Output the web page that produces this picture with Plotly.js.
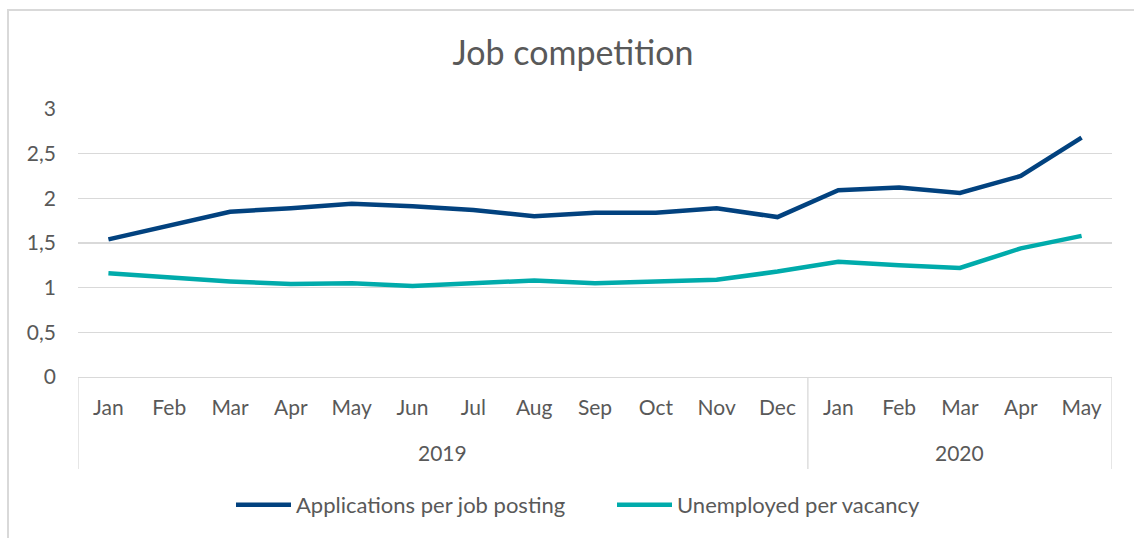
<!DOCTYPE html>
<html>
<head>
<meta charset="utf-8">
<script src="https://cdn.plot.ly/plotly-3.0.1.min.js"></script>
<style>
html,body{margin:0;padding:0;background:#fff;}
#wrap{position:relative;width:1134px;height:538px;overflow:hidden;}
#chart{width:1134px;height:538px;}
#frame{position:absolute;left:7px;top:9px;right:0;bottom:0;border-left:2px solid #d9d9d9;border-top:2px solid #d9d9d9;pointer-events:none;}
</style>
</head>
<body>
<div id="wrap"><div id="chart"></div><div id="frame"></div></div>
<script>
const years = ["2019","2019","2019","2019","2019","2019","2019","2019","2019","2019","2019","2019","2020","2020","2020","2020","2020"];
const months = ["Jan","Feb","Mar","Apr","May","Jun","Jul","Aug","Sep","Oct","Nov","Dec","Jan","Feb","Mar","Apr","May"];
const applicationsPerPosting = [1.54,1.69,1.85,1.89,1.94,1.91,1.87,1.80,1.84,1.84,1.89,1.79,2.09,2.12,2.06,2.25,2.68];
const unemployedPerVacancy = [1.16,1.11,1.07,1.04,1.05,1.02,1.05,1.08,1.05,1.07,1.09,1.18,1.29,1.25,1.22,1.44,1.58];
const yTicks = [0,0.5,1,1.5,2,2.5,3];

const FONT = "Lato, Open Sans, sans-serif";
const GRAY = "#595959";
const LINE = "#d9d9d9";

const idx = months.map((m,i)=>i);

// group years -> centre index and boundaries
const groups = [];
years.forEach((y,i)=>{
  const g = groups[groups.length-1];
  if (g && g.year===y) g.end=i; else groups.push({year:y,start:i,end:i});
});

const yearLabelY = -0.282, dividerBottom = -0.343;
const annotations = groups.map(g=>({
  x:(g.start+g.end)/2, xref:"x", y:yearLabelY, yref:"paper",
  text:g.year, showarrow:false, xanchor:"center", yanchor:"middle",
  font:{family:FONT, size:21, color:GRAY}
}));
const bounds = [groups[0].start-0.5].concat(groups.map(g=>g.end+0.5));
const shapes = bounds.map(b=>({
  type:"line", xref:"x", yref:"paper", x0:b, x1:b, y0:0, y1:dividerBottom,
  line:{color:LINE, width:1.3}
}));

const traces = [
  {x:idx, y:applicationsPerPosting, type:"scatter", mode:"lines",
   name:"Applications per job posting", line:{color:"#02427f", width:4.5}},
  {x:idx, y:unemployedPerVacancy, type:"scatter", mode:"lines",
   name:"Unemployed per vacancy", line:{color:"#00abab", width:4.5}}
];

const layout = {
  width:1134, height:538,
  margin:{l:78, r:22, t:109, b:161},
  separators:",.",
  paper_bgcolor:"#fff", plot_bgcolor:"#fff",
  font:{family:FONT, color:GRAY, size:21},
  title:{text:"Job competition", xref:"container", x:573/1134, xanchor:"center",
         yref:"container", y:1-53/538, yanchor:"middle",
         font:{family:FONT, size:34, color:GRAY}},
  showlegend:true,
  legend:{orientation:"h", xref:"container", x:231/1134, xanchor:"left",
          yref:"container", y:1-505/538, yanchor:"middle",
          font:{family:FONT, size:22, color:GRAY}, itemwidth:55,
          entrywidth:311, entrywidthmode:"pixels"},
  annotations:annotations,
  shapes:shapes,
  xaxis:{range:[-0.5, months.length-0.5], tickvals:idx, ticktext:months,
         showgrid:false, showline:true, linecolor:LINE, linewidth:1.3,
         tickfont:{family:FONT, size:21, color:GRAY}, ticks:"", zeroline:false,
         ticklabelstandoff:11, fixedrange:true},
  yaxis:{range:[0,3], tickvals:yTicks, showgrid:true, gridcolor:LINE, gridwidth:1.3,
         zeroline:false, showline:false, ticks:"", ticklabelstandoff:21,
         tickfont:{family:FONT, size:21, color:GRAY}, fixedrange:true}
};

Plotly.newPlot("chart", traces, layout, {displayModeBar:false, staticPlot:true});
</script>
</body>
</html>
